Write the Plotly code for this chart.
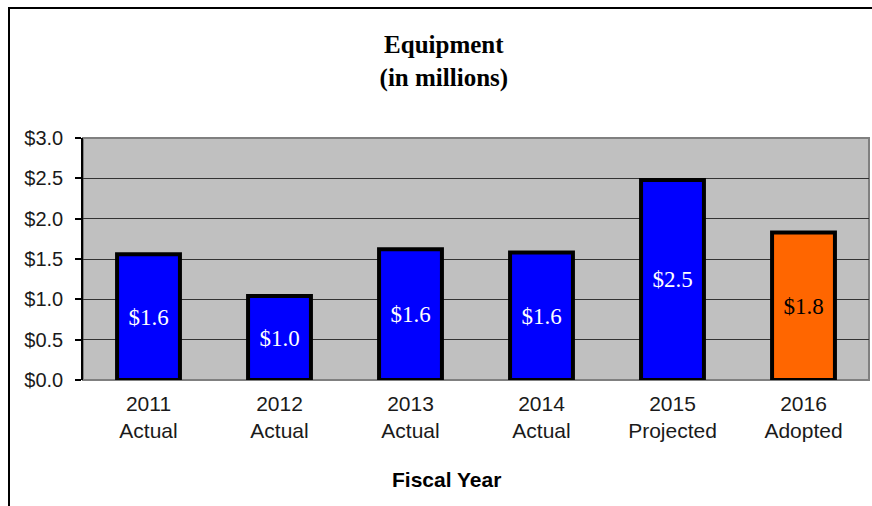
import plotly.graph_objects as go

# Equipment spending by fiscal year, in millions of dollars
categories = ["2011<br>Actual", "2012<br>Actual", "2013<br>Actual",
              "2014<br>Actual", "2015<br>Projected", "2016<br>Adopted"]
values = [1.56, 1.04, 1.62, 1.58, 2.48, 1.83]
bar_colors = ["#0000FF", "#0000FF", "#0000FF", "#0000FF", "#0000FF", "#FF6600"]
label_colors = ["#FFFFFF", "#FFFFFF", "#FFFFFF", "#FFFFFF", "#FFFFFF", "#000000"]
y_ticks = [0, 0.5, 1.0, 1.5, 2.0, 2.5, 3.0]

W, H = 872, 506
ML, MR, MT, MB = 83, 3, 138, 126
plot_w = W - ML - MR
plot_h = H - MT - MB


def px_x(x):
    return (x - ML) / plot_w


def px_y(y):
    return (H - MB - y) / plot_h


fig = go.Figure(
    go.Bar(
        x=categories,
        y=values,
        width=0.48,
        marker=dict(color=bar_colors, line=dict(color="#000000", width=4)),
        texttemplate="$%{y:.1f}",
        textposition="inside",
        insidetextanchor="middle",
        textfont=dict(family="Liberation Serif", size=23, color=label_colors),
        cliponaxis=False,
    )
)

fig.update_layout(
    width=W,
    height=H,
    margin=dict(l=ML, r=MR, t=MT, b=MB),
    paper_bgcolor="#FFFFFF",
    plot_bgcolor="#C0C0C0",
    showlegend=False,
    title=dict(
        text="<b>Equipment<br>(in millions)</b>",
        font=dict(family="Liberation Serif", size=25, color="#000000"),
        xref="container", x=0.509, xanchor="center",
        yref="container", y=1 - 53 / H, yanchor="middle",
    ),
    xaxis=dict(
        showgrid=False,
        showline=False,
        ticks="",
        tickfont=dict(family="Liberation Sans", size=21, color="#1a1a1a"),
        ticklabelstandoff=9,
    ),
    yaxis=dict(
        range=[0, 3],
        tickvals=y_ticks,
        tickformat="$.1f",
        tickfont=dict(family="Liberation Sans", size=20, color="#1a1a1a"),
        showgrid=True,
        gridcolor="#333333",
        gridwidth=1.2,
        zeroline=False,
        showline=True,
        linecolor="#000000",
        linewidth=1.5,
        ticks="outside",
        ticklen=6,
        tickcolor="#000000",
        tickwidth=1.5,
        ticklabelstandoff=8,
    ),
    annotations=[
        dict(
            text="<b>Fiscal Year</b>",
            xref="paper", yref="paper",
            x=px_x(446), y=px_y(479),
            xanchor="center", yanchor="middle",
            showarrow=False,
            font=dict(family="Liberation Sans", size=21, color="#000000"),
        )
    ],
    shapes=[
        # plot area outline
        dict(type="rect", xref="paper", yref="paper", x0=0, x1=1, y0=0, y1=1,
             line=dict(color="#808080", width=2), layer="between"),
        # outer chart frame
        dict(type="rect", xref="paper", yref="paper",
             x0=px_x(9), x1=px_x(W + 20), y0=px_y(H + 20), y1=px_y(8),
             line=dict(color="#000000", width=2), layer="below"),
    ],
)

fig.write_html("out.html")
